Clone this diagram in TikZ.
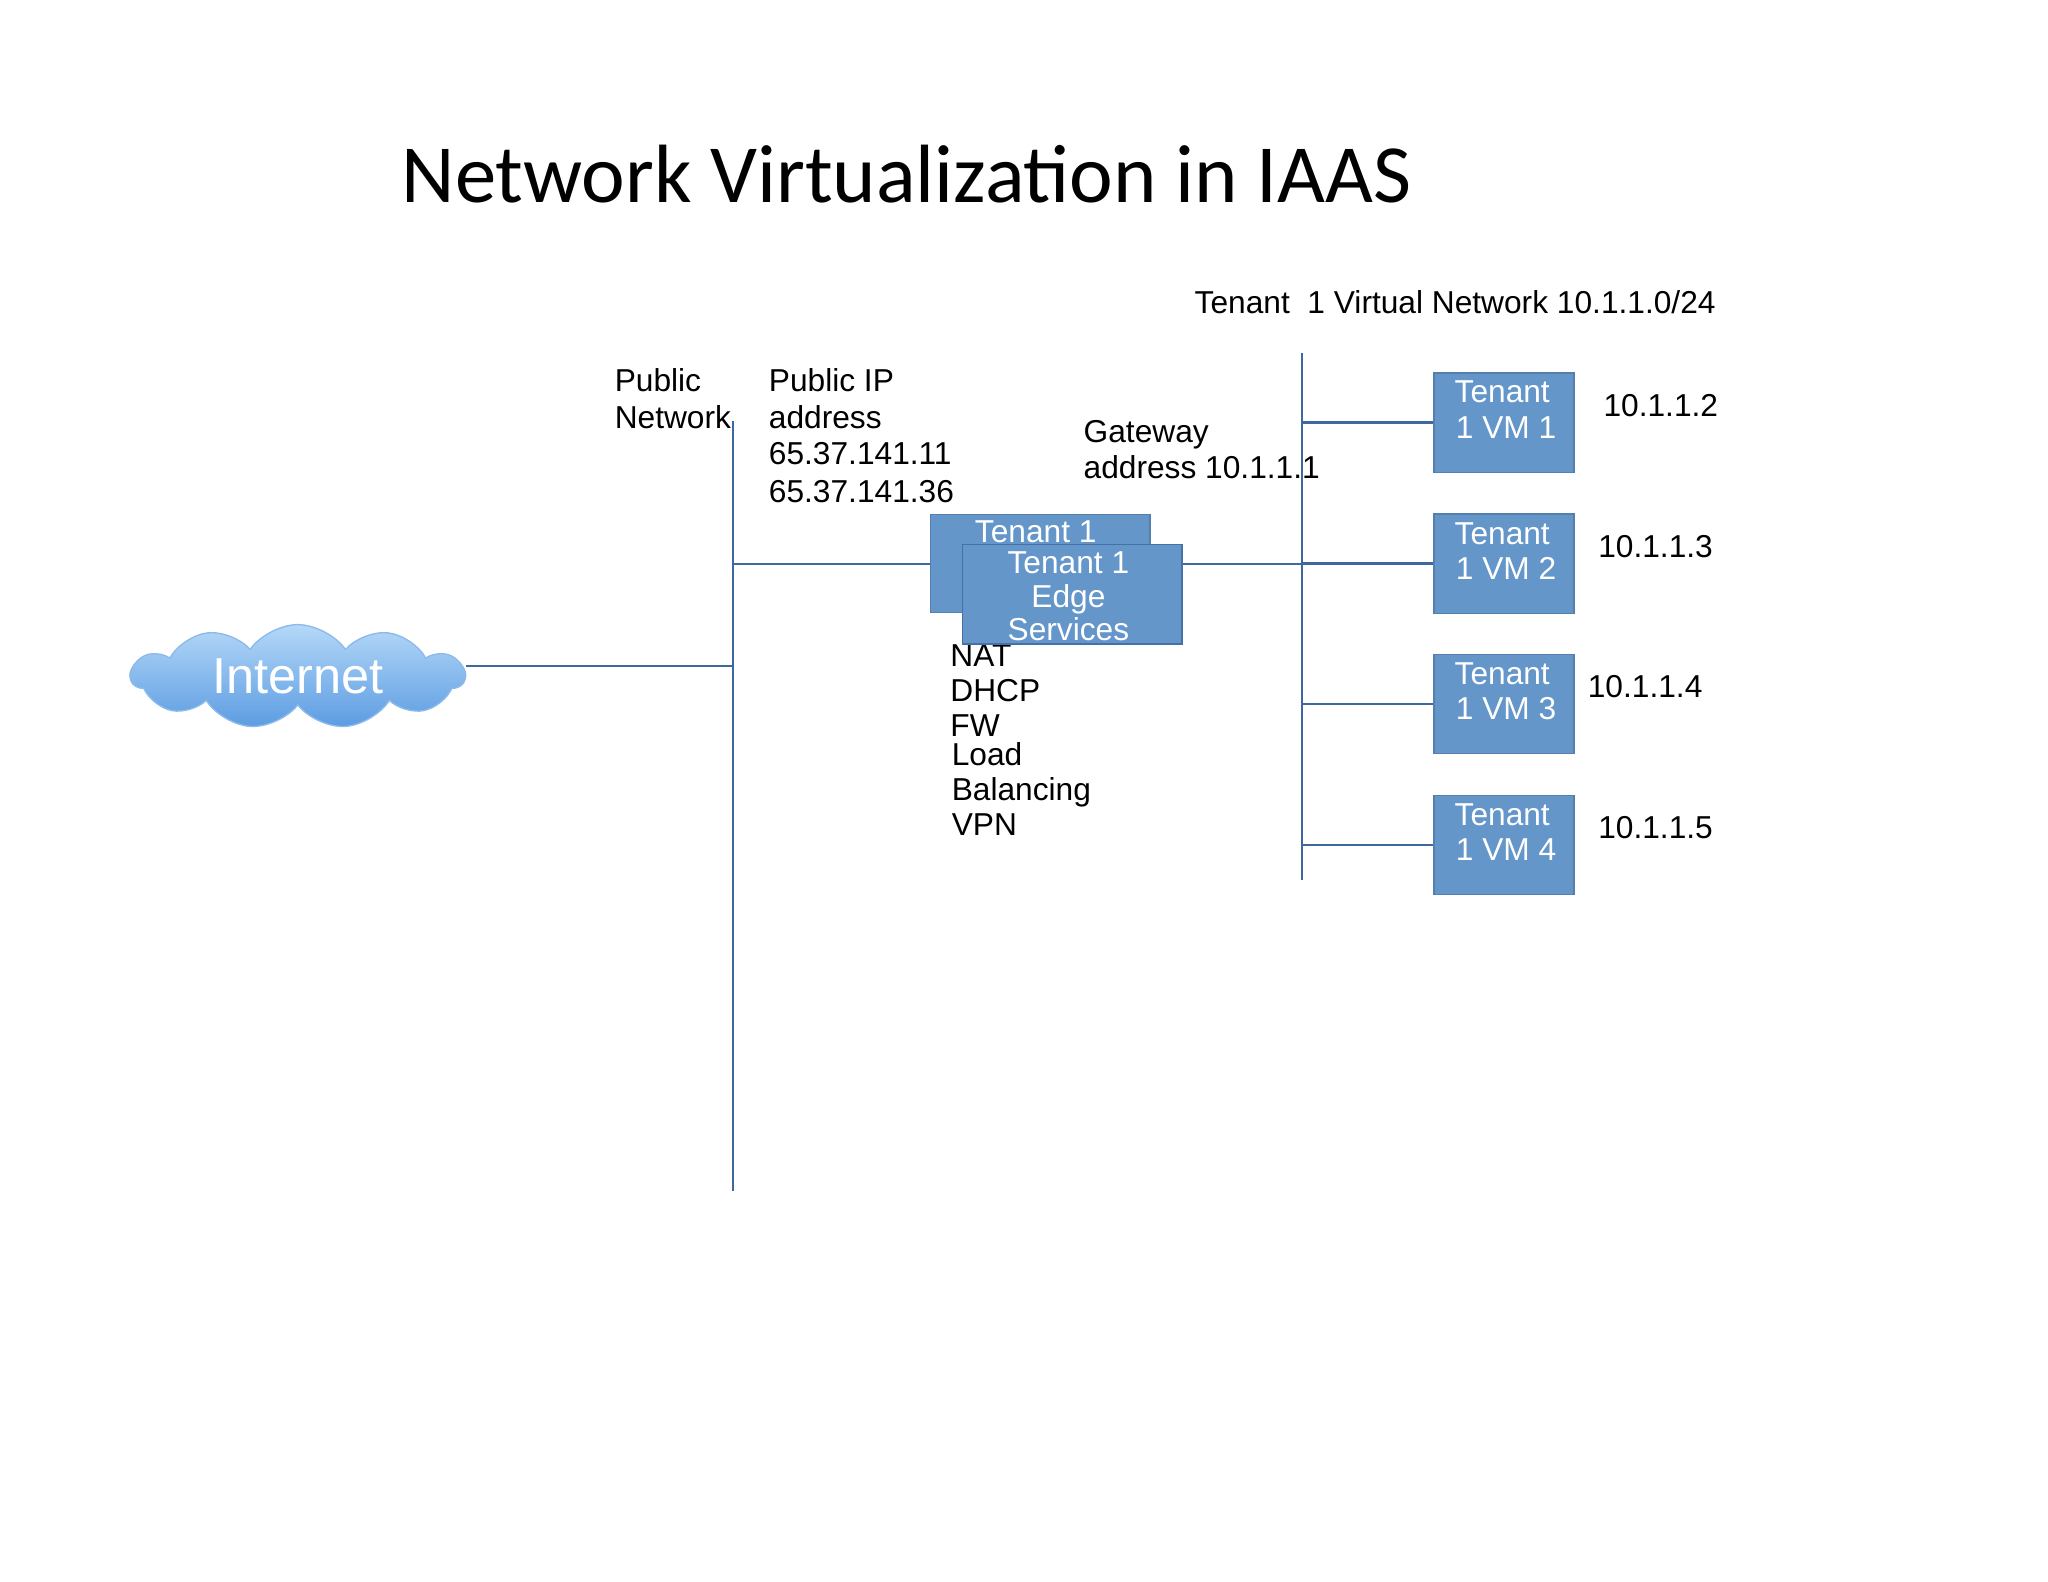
\documentclass[tikz,border=0pt]{standalone}
\usepackage{fontspec}
\setmainfont{Liberation Sans}
\newfontfamily\titlefont{Carlito}
\usetikzlibrary{shapes.symbols}
\definecolor{boxfill}{HTML}{6496CA}
\definecolor{boxdraw}{HTML}{4471A8}
\definecolor{netline}{HTML}{3D68A0}
\definecolor{cloudtop}{HTML}{B4D8F8}
\definecolor{cloudbot}{HTML}{5C9CE2}
\begin{document}
\begin{tikzpicture}[x=0.01cm,y=-0.01cm,
  lbl/.style={anchor=base west,inner sep=0,font=\fontsize{6.9}{8}\selectfont},
  wlbl/.style={lbl,text=white},
  vmbox/.style={fill=boxfill,draw=boxfill!85!black,line width=0.3pt,inner sep=0},
  net/.style={draw=netline,line width=0.5pt}]
\useasboundingbox (0,0) rectangle (1568,1211);
\node[anchor=center,font=\titlefont\fontsize{18}{22}\selectfont] (title) at (694,133) {Network Virtualization in IAAS};
% cloud
\node[cloud,cloud puffs=11,cloud puff arc=110,aspect=3.4,minimum width=2.55cm,minimum height=0.75cm,inner sep=0,
  top color=cloudtop,bottom color=cloudbot,draw=cloudbot!70!white,line width=0.3pt,
  text=white,font=\fontsize{11}{12}\selectfont] (inet) at (228,518) {Internet};
% lines
\coordinate (pnTop) at (561,322);
\coordinate (pnBot) at (561,912);
\draw[net] (pnTop) -- (pnBot);
\coordinate (pnI) at (561,510);
\coordinate (pnE) at (561,432);
\draw[net] (inet.east |- pnI) -- (pnI);
\coordinate (vnTop) at (997,270);
\coordinate (vnBot) at (997,674);
\draw[net] (vnTop) -- (vnBot);
% NAT list (under front box)
\node[lbl] (nat) at (727,510) {NAT};
\node[lbl] (dhcp) at (727,537) {DHCP};
\node[lbl] (fw) at (727,564) {FW};
\node[lbl] (load) at (728,586) {Load};
\node[lbl] (bal) at (728,613) {Balancing};
\node[lbl] (vpn) at (728,640) {VPN};
% edge boxes
\node[vmbox,minimum width=1.68cm,minimum height=0.75cm] (back) at (796.5,431.5) {};
\node[wlbl,anchor=base] (backt) at (793,415) {Tenant 1};
\node[vmbox,draw=boxdraw,minimum width=1.68cm,minimum height=0.76cm] (front) at (821,455) {};
\node[wlbl,anchor=base] at (818,439) {Tenant 1};
\node[wlbl,anchor=base] at (818,465) {Edge};
\node[wlbl,anchor=base] at (818,490) {Services};
\draw[net] (pnE) -- (back.west |- pnE);
\coordinate (vnE) at (997,432);
\draw[net] (front.east |- vnE) -- (vnE);
% VMs
\foreach \i/\y/\ip/\ipx in {1/323.5/10.1.1.2/1227,2/431.5/10.1.1.3/1223,3/539/10.1.1.4/1215,4/647/10.1.1.5/1223}{
  \node[vmbox,minimum width=1.07cm,minimum height=0.76cm] (vm\i) at (1151.5,\y) {};
  \node[wlbl] at (1113,\y-15) {Tenant};
  \node[wlbl] at (1114,\y+12) {1 VM \i};
  \node[lbl] (ip\i) at (\ipx,\y-5) {\ip};
  \coordinate (vc\i) at (997,\y);
  \draw[net] (vc\i) -- (vm\i.west);
}
% labels
\node[lbl] (vnl) at (914,240) {Tenant\ \ 1 Virtual Network 10.1.1.0/24};
\node[lbl] at (470,300) {Public};
\node[lbl] at (470,328) {Network};
\node[lbl] at (588,300) {Public IP};
\node[lbl] at (588,328) {address};
\node[lbl] at (588,356) {65.37.141.11};
\node[lbl] at (588,385) {65.37.141.36};
\node[lbl] at (829,339) {Gateway};
\node[lbl] at (829,366) {address 10.1.1.1};
\end{tikzpicture}
\end{document}
